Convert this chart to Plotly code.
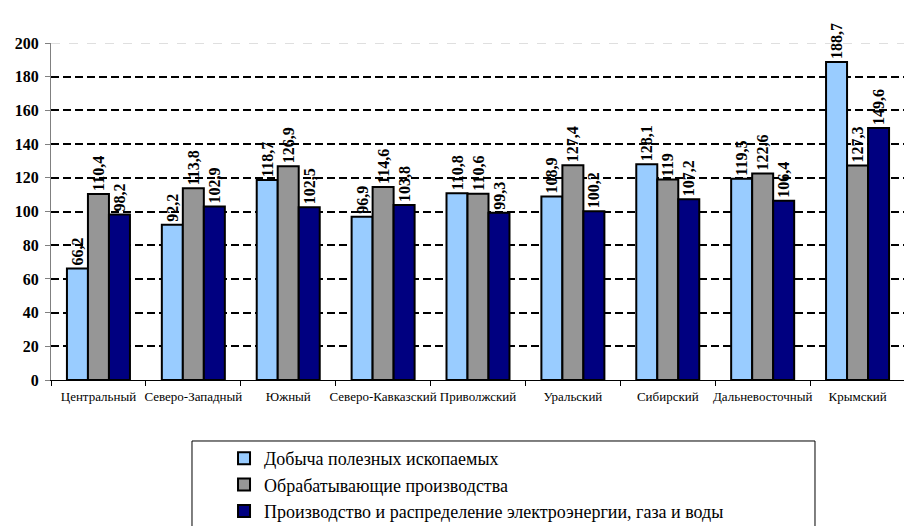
import plotly.graph_objects as go

regions = ["Центральный", "Северо-Западный", "Южный", "Северо-Кавказский", "Приволжский",
           "Уральский", "Сибирский", "Дальневосточный", "Крымский"]
mining = [66.2, 92.2, 118.7, 96.9, 110.8, 108.9, 128.1, 119.5, 188.7]
manufacturing = [110.4, 113.8, 126.9, 114.6, 110.6, 127.4, 119, 122.6, 127.3]
energy = [98.2, 102.9, 102.5, 103.8, 99.3, 100.2, 107.2, 106.4, 149.6]
series_names = ["Добыча полезных ископаемых", "Обрабатывающие производства",
                "Производство и распределение электроэнергии, газа и воды"]
colors = ["#99CCFF", "#969696", "#000080"]
y_ticks = [0, 20, 40, 60, 80, 100, 120, 140, 160, 180, 200]
y_max = 200

SERIF = "Liberation Serif"


def fmt(v):
    s = ("%.1f" % v).rstrip("0").rstrip(".")
    return s.replace(".", ",")


fig = go.Figure()
for i, vals in enumerate([mining, manufacturing, energy]):
    fig.add_trace(go.Bar(
        x=regions, y=vals, name=series_names[i], legendgroup=str(i),
        marker=dict(color=colors[i], line=dict(color="black", width=2)),
        text=["<b>%s</b>" % fmt(v) for v in vals], textposition="outside", textangle=-90,
        constraintext="none", cliponaxis=False,
        textfont=dict(family=SERIF, size=16, color="black"),
    ))

fig.add_shape(type="line", xref="paper", yref="y", x0=0, x1=1, y0=y_max, y1=y_max,
              line=dict(color="white", width=4), layer="below")
fig.add_shape(type="line", xref="paper", yref="y", x0=0, x1=1, y0=y_max, y1=y_max,
              line=dict(color="#C0C0C0", width=1, dash="dash"), layer="below")
# legend frame
fig.add_shape(type="rect", xref="paper", yref="paper", x0=0.1651, x1=0.8946, y0=-0.5, y1=-0.181,
              line=dict(color="black", width=1), fillcolor="rgba(0,0,0,0)", layer="above")

fig.update_layout(
    width=912, height=526,
    margin=dict(l=43, r=15, t=35, b=154, autoexpand=False),
    paper_bgcolor="white", plot_bgcolor="white",
    barmode="group", bargap=0.336, bargroupgap=0,
    font=dict(family=SERIF, color="black"),
    uniformtext=dict(mode=False),
    showlegend=True,
    legend=dict(
        x=0.2026, y=-0.178, xanchor="left", yanchor="top",
        borderwidth=0, bgcolor="rgba(0,0,0,0)",
        font=dict(family=SERIF, size=18, color="black"),
        traceorder="grouped", tracegroupgap=0,
        itemwidth=30,
    ),
    xaxis=dict(
        showline=True, linecolor="black", linewidth=1,
        ticks="outside", tickson="boundaries", ticklen=5, tickcolor="black",
        tickangle=0, automargin=False, ticklabelstandoff=4,
        tickfont=dict(family=SERIF, size=13, color="black"),
        showgrid=False,
    ),
    yaxis=dict(
        range=[0, y_max], tickvals=y_ticks, ticktext=["<b>%d</b>" % t for t in y_ticks],
        showline=True, linecolor="#808080", linewidth=1,
        ticks="outside", ticklen=5, tickcolor="#808080",
        tickfont=dict(family=SERIF, size=16, color="black"),
        showgrid=True, gridcolor="black", gridwidth=2, griddash="8px,4px",
        zeroline=False, automargin=False, ticklabelstandoff=3,
    ),
)

fig.write_html("out.html")
